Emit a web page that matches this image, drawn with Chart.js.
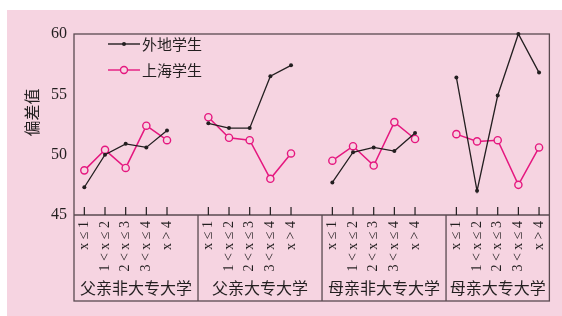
<!DOCTYPE html>
<html>
<head>
<meta charset="utf-8">
<script src="https://cdn.jsdelivr.net/npm/chart.js@4/dist/chart.umd.min.js"></script>
<style>
  html, body { margin: 0; padding: 0; background: #ffffff; }
  #wrap { position: absolute; left: 7px; top: 10px; width: 555px; height: 306px; background: #f6d4e1; }
</style>
</head>
<body>
<div id="wrap"><canvas id="chart" width="555" height="306"></canvas></div>
<script>
const groups = ['父亲非大专大学', '父亲大专大学', '母亲非大专大学', '母亲大专大学'];
const bands = ['x ≤ 1', '1 < x ≤ 2', '2 < x ≤ 3', '3 < x ≤ 4', 'x > 4'];
const seriesNames = ['外地学生', '上海学生'];
const outsideVals = [47.3, 50.0, 50.9, 50.6, 52.0,
                     52.6, 52.2, 52.2, 56.5, 57.4,
                     47.7, 50.2, 50.6, 50.3, 51.8,
                     56.4, 47.0, 54.9, 60.0, 56.8];
const shanghaiVals = [48.7, 50.4, 48.9, 52.4, 51.2,
                      53.1, 51.4, 51.2, 48.0, 50.1,
                      49.5, 50.7, 49.1, 52.7, 51.3,
                      51.7, 51.1, 51.2, 47.5, 50.6];
const yTicks = [45, 50, 55, 60];

const BG = '#f6d4e1';
const FRAME = '#5a4a50';
const DARK = '#231f20';
const PINK = '#e5177f';

// each group takes 6 slots: 5 bands + one empty slot
const SLOT = bands.length + 1;
const tickPos = [];
groups.forEach((g, gi) => bands.forEach((b, bi) => tickPos.push(gi * SLOT + bi)));

function toPoints(vals) {
    const pts = [];
    groups.forEach((g, gi) => {
        bands.forEach((b, bi) => pts.push({ x: gi * SLOT + bi, y: vals[gi * bands.length + bi] }));
        if (gi < groups.length - 1) pts.push({ x: gi * SLOT + bands.length, y: null });
    });
    return pts;
}

const decor = {
    id: 'decor',
    beforeDatasetsDraw(chart) {
        const { ctx, chartArea: a, scales: { x } } = chart;
        const boxBottom = 291;
        ctx.save();
        ctx.strokeStyle = FRAME;
        ctx.lineWidth = 1.3;
        ctx.strokeRect(a.left, a.top, a.right - a.left, boxBottom - a.top);
        ctx.beginPath();
        ctx.moveTo(a.left, a.bottom);
        ctx.lineTo(a.right, a.bottom);
        // group separators
        for (let gi = 1; gi < groups.length; gi++) {
            const px = x.getPixelForValue(gi * SLOT - 0.5);
            ctx.moveTo(px, a.bottom);
            ctx.lineTo(px, boxBottom);
        }
        ctx.stroke();
        // inner tick marks
        ctx.lineWidth = 1.2;
        ctx.strokeStyle = DARK;
        ctx.beginPath();
        tickPos.forEach(v => {
            const px = x.getPixelForValue(v);
            ctx.moveTo(px, a.bottom);
            ctx.lineTo(px, a.bottom - 8);
        });
        ctx.stroke();
        // group labels
        ctx.fillStyle = DARK;
        ctx.font = '16px "Noto Sans CJK SC"';
        ctx.textAlign = 'center';
        ctx.textBaseline = 'middle';
        groups.forEach((g, gi) => {
            const l = gi === 0 ? a.left : x.getPixelForValue(gi * SLOT - 0.5);
            const r = gi === groups.length - 1 ? a.right : x.getPixelForValue((gi + 1) * SLOT - 0.5);
            ctx.fillText(g, (l + r) / 2, 278);
        });
        // y title
        ctx.save();
        ctx.translate(24.5, 102.5);
        ctx.rotate(-Math.PI / 2);
        ctx.font = '16px "Noto Sans CJK SC"';
        ctx.fillText('偏差值', 0, 0);
        ctx.restore();
        // legend
        const rows = [
            { y: 34, color: DARK, dot: true },
            { y: 60, color: PINK, dot: false }
        ];
        rows.forEach((r, i) => {
            ctx.strokeStyle = r.color;
            ctx.lineWidth = 1.4;
            ctx.beginPath();
            ctx.moveTo(101, r.y);
            ctx.lineTo(133, r.y);
            ctx.stroke();
            ctx.beginPath();
            if (r.dot) {
                ctx.fillStyle = DARK;
                ctx.arc(117, r.y, 2, 0, Math.PI * 2);
                ctx.fill();
            } else {
                ctx.fillStyle = BG;
                ctx.arc(117, r.y, 3.5, 0, Math.PI * 2);
                ctx.fill();
                ctx.stroke();
            }
            ctx.fillStyle = DARK;
            ctx.font = '15px "Noto Sans CJK SC"';
            ctx.textAlign = 'left';
            ctx.fillText(seriesNames[i], 135, r.y);
        });
        ctx.restore();
    }
};

new Chart(document.getElementById('chart').getContext('2d'), {
    type: 'line',
    data: {
        datasets: [
            {
                label: seriesNames[0],
                data: toPoints(outsideVals),
                borderColor: DARK,
                backgroundColor: DARK,
                borderWidth: 1.3,
                pointRadius: 2,
                pointBorderWidth: 0,
                spanGaps: false,
                clip: false
            },
            {
                label: seriesNames[1],
                data: toPoints(shanghaiVals),
                borderColor: PINK,
                backgroundColor: BG,
                borderWidth: 1.5,
                pointRadius: 3.6,
                pointBorderWidth: 1.4,
                spanGaps: false,
                clip: false
            }
        ]
    },
    options: {
        responsive: false,
        animation: false,
        layout: { padding: { left: 0, right: 7, top: 24, bottom: 15 } },
        plugins: { legend: { display: false }, tooltip: { enabled: false } },
        scales: {
            x: {
                type: 'linear',
                min: -0.5,
                max: groups.length * SLOT - 1.5,
                grid: { display: false, drawTicks: false },
                border: { display: false },
                afterBuildTicks: scale => { scale.ticks = tickPos.map(v => ({ value: v })); },
                afterFit: scale => { scale.height = 86; },
                ticks: {
                    autoSkip: false,
                    minRotation: 90,
                    maxRotation: 90,
                    padding: 6,
                    color: DARK,
                    font: { family: '"Liberation Serif"', size: 14 },
                    callback: v => bands[((v % SLOT) + SLOT) % SLOT] || ''
                }
            },
            y: {
                min: 45,
                max: 60,
                grid: { display: false, drawTicks: false },
                border: { display: false },
                afterBuildTicks: scale => { scale.ticks = yTicks.map(v => ({ value: v })); },
                afterFit: scale => { scale.width = 67; },
                ticks: {
                    padding: 7,
                    color: DARK,
                    font: { family: '"Liberation Serif"', size: 16 }
                }
            }
        }
    },
    plugins: [decor]
});
</script>
</body>
</html>
